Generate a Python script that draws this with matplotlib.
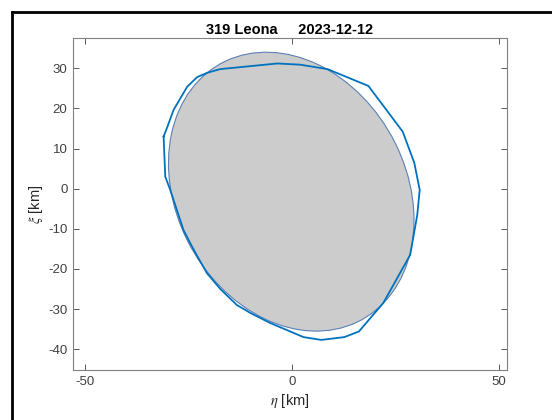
import numpy as np
import matplotlib
matplotlib.use('Agg')
import matplotlib.pyplot as plt
from matplotlib.patches import Ellipse
from matplotlib.lines import Line2D

plt.rcParams['font.family'] = ['Liberation Sans', 'DejaVu Sans']
plt.rcParams['mathtext.fontset'] = 'stix'
plt.rcParams['axes.unicode_minus'] = False

# occultation profile (eta, xi) in km
eta = [-31.1, -30.3, -28.7, -25.4, -23.0, -20.5, -17.4, -3.6, 1.9, 8.5, 18.4, 26.7, 29.5,
       30.8, 30.2, 28.5, 22.0, 16.1, 12.6, 7.0, 2.7, -0.5, -5.3, -10.1, -13.4, -17.4, -20.6,
       -22.7, -24.2, -26.3, -27.9, -29.5, -30.7, -31.1]
xi = [13.0, 15.1, 19.6, 25.4, 27.8, 28.9, 29.8, 31.2, 30.9, 29.8, 25.6, 14.2, 6.4,
      -0.3, -6.6, -16.5, -28.5, -35.6, -37.0, -37.7, -37.0, -35.6, -33.5, -31.0, -29.0, -25.0, -21.1,
      -17.3, -14.5, -10.3, -5.3, -0.3, 3.0, 13.0]

# fitted ellipse
ell_center = (-0.25, -0.75)
ell_major = 36.2
ell_minor = 27.9
ell_angle = 116.0

title_ = '319 Leona     2023-12-12'
xticks = [-50, 0, 50]
yticks = [-40, -30, -20, -10, 0, 10, 20, 30]

fig = plt.figure(figsize=(5.52, 4.2), dpi=100)
ax = fig.add_axes([73/552, 1-370/420, (507-73)/552, (370-38)/420])

e = Ellipse(ell_center, 2*ell_major, 2*ell_minor, angle=ell_angle,
            facecolor='#cccccc', edgecolor='#5b80b4', linewidth=0.8, zorder=1)
ax.add_patch(e)
ax.plot(eta, xi, color='#0072BD', linewidth=1.3, zorder=2)

ax.set_xlim(-53, 51.9)
ax.set_ylim(-45.2, 37.55)
ax.set_xticks(xticks)
ax.set_yticks(yticks)
ax.tick_params(direction='in', length=4, width=0.6, colors='#404040',
               labelsize=9.5, top=True, right=True, pad=4)
for s in ax.spines.values():
    s.set_color('#808080')
    s.set_linewidth(0.8)

ax.set_xlabel('$\\eta$ [km]', fontsize=10.5, color='#262626', labelpad=3)
ax.set_ylabel('$\\xi$ [km]', fontsize=10.5, color='#262626', labelpad=2)
ax.set_title(title_, fontsize=10.5, fontweight='bold', pad=3)

# black frame around figure
fig.add_artist(Line2D([11.5/552, 11.5/552], [0, 1-11.5/420], transform=fig.transFigure,
                      color='black', linewidth=2))
fig.add_artist(Line2D([11.5/552, 1], [1-11.5/420, 1-11.5/420], transform=fig.transFigure,
                      color='black', linewidth=2))

plt.savefig('out.png', dpi=100)
